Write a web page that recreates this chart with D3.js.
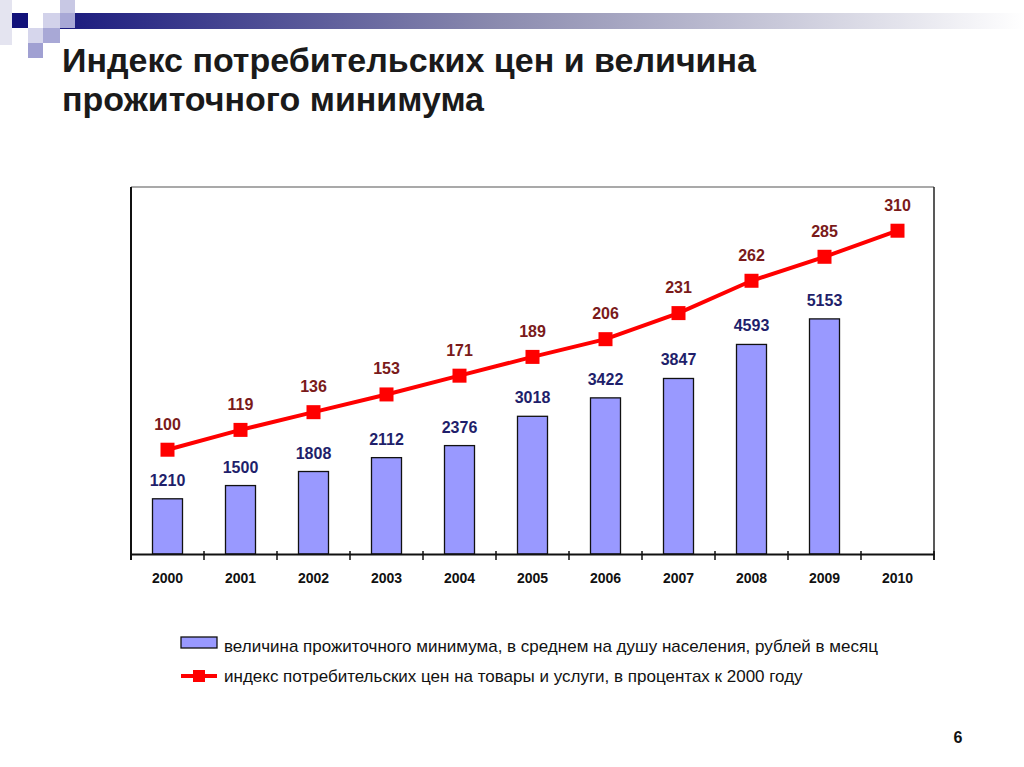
<!DOCTYPE html>
<html>
<head>
<meta charset="utf-8">
<script src="https://cdn.jsdelivr.net/npm/d3@7"></script>
<style>
  body { margin: 0; background: #fff; }
  svg { display: block; font-family: "Liberation Sans", Arial, sans-serif; }
</style>
</head>
<body>
<svg></svg>
<script>
var years = ['2000', '2001', '2002', '2003', '2004', '2005', '2006', '2007', '2008', '2009', '2010'];
var minimum = [1210, 1500, 1808, 2112, 2376, 3018, 3422, 3847, 4593, 5153];
var cpi = [100, 119, 136, 153, 171, 189, 206, 231, 262, 285, 310];
var legendLabels = [
  'величина прожиточного минимума, в среднем на душу населения, рублей в месяц',
  'индекс потребительских цен на товары и услуги, в процентах к 2000 году'
];

(function go() {
  var width = 1024, height = 767;
  var svg = d3.select('svg').attr('width', width).attr('height', height);

  // header decoration
  var grad = svg.append('defs').append('linearGradient').attr('id', 'hdr');
  grad.append('stop').attr('offset', '0%').attr('stop-color', '#1a1a7e');
  grad.append('stop').attr('offset', '45%').attr('stop-color', '#8a8aae');
  grad.append('stop').attr('offset', '100%').attr('stop-color', '#ffffff');
  svg.append('rect').attr('x', 60).attr('y', 13).attr('width', 964).attr('height', 16).attr('fill', 'url(#hdr)');

  var squares = [
    [0, 0, 12, 45, '#e4e4f0'],
    [60, 0, 15, 13, '#c8c8e4'],
    [43, 13, 17, 15, '#d2d2ea'],
    [60, 13, 15, 15, '#a8a8d6'],
    [28, 28, 15, 15, '#d6d6ec'],
    [43, 28, 17, 15, '#a8a8d6'],
    [28, 43, 15, 15, '#a0a0d2'],
    [12, 13, 16, 15, '#12127a']
  ];
  svg.selectAll('rect.sq').data(squares).enter().append('rect')
    .attr('class', 'sq')
    .attr('x', function(d) { return d[0]; })
    .attr('y', function(d) { return d[1]; })
    .attr('width', function(d) { return d[2]; })
    .attr('height', function(d) { return d[3]; })
    .attr('fill', function(d) { return d[4]; });

  // title
  var title = svg.append('text').attr('x', 62).attr('y', 72)
    .style('font-size', '34px').style('font-weight', 'bold').attr('fill', '#1a1a1a');
  title.append('tspan').attr('x', 62).text('Индекс потребительских цен и величина');
  title.append('tspan').attr('x', 62).attr('dy', 39).text('прожиточного минимума');

  // scales
  var left = 131, right = 934, top = 187, bottom = 554;
  var x = d3.scaleBand().domain(years).range([left, right]);
  var yBar = d3.scaleLinear().domain([0, 8000]).range([bottom, 189]);
  var yLine = d3.scaleLinear().domain([0, 350]).range([bottom, 189]);

  // frame
  svg.append('line').attr('x1', left).attr('x2', right).attr('y1', top).attr('y2', top)
    .attr('stroke', '#8c8c8c').attr('stroke-width', 1.5);
  svg.append('line').attr('x1', right).attr('x2', right).attr('y1', top).attr('y2', 560)
    .attr('stroke', '#222').attr('stroke-width', 1.5);
  svg.append('line').attr('x1', left).attr('x2', left).attr('y1', top).attr('y2', 560)
    .attr('stroke', '#111').attr('stroke-width', 2);

  // bars
  var bw = 30;
  svg.selectAll('rect.bar').data(minimum).enter().append('rect')
    .attr('class', 'bar')
    .attr('x', function(d, i) { return x(years[i]) + x.bandwidth() / 2 - bw / 2; })
    .attr('y', function(d) { return yBar(d); })
    .attr('width', bw)
    .attr('height', function(d) { return bottom - yBar(d); })
    .attr('fill', '#9999ff').attr('stroke', '#111').attr('stroke-width', 1.3);

  svg.selectAll('text.bl').data(minimum).enter().append('text')
    .attr('class', 'bl')
    .attr('x', function(d, i) { return x(years[i]) + x.bandwidth() / 2; })
    .attr('y', function(d) { return yBar(d) - 13; })
    .attr('text-anchor', 'middle')
    .style('font-size', '16px').style('font-weight', 'bold').attr('fill', '#1f1f6b')
    .text(function(d) { return d; });

  // x axis
  var axis = d3.axisBottom(x).tickSize(0).tickSizeOuter(0).tickPadding(19);
  var g = svg.append('g').attr('transform', 'translate(0,' + bottom + ')').call(axis);
  g.select('.domain').attr('stroke', '#111').attr('stroke-width', 2);
  g.selectAll('text').style('font-size', '14px').style('font-weight', 'bold')
    .style('font-family', '"Liberation Sans", Arial, sans-serif').attr('fill', '#111');

  svg.selectAll('line.tk').data(years.slice(1).concat(['end'])).enter().append('line')
    .attr('class', 'tk')
    .attr('x1', function(d) { return d == 'end' ? right : x(d); })
    .attr('x2', function(d) { return d == 'end' ? right : x(d); })
    .attr('y1', bottom - 3).attr('y2', bottom + 6)
    .attr('stroke', '#111').attr('stroke-width', 1.5);

  // line
  var line = d3.line()
    .x(function(d, i) { return x(years[i]) + x.bandwidth() / 2; })
    .y(function(d) { return yLine(d); });
  svg.append('path').datum(cpi).attr('d', line)
    .attr('fill', 'none').attr('stroke', '#ff0000').attr('stroke-width', 4);

  svg.selectAll('rect.mk').data(cpi).enter().append('rect')
    .attr('class', 'mk')
    .attr('x', function(d, i) { return x(years[i]) + x.bandwidth() / 2 - 7; })
    .attr('y', function(d) { return yLine(d) - 7; })
    .attr('width', 14).attr('height', 14)
    .attr('fill', '#ff0000');

  svg.selectAll('text.ll').data(cpi).enter().append('text')
    .attr('class', 'll')
    .attr('x', function(d, i) { return x(years[i]) + x.bandwidth() / 2; })
    .attr('y', function(d) { return yLine(d) - 20; })
    .attr('text-anchor', 'middle')
    .style('font-size', '16px').style('font-weight', 'bold').attr('fill', '#7a1a1a')
    .text(function(d) { return d; });

  // legend
  svg.append('rect').attr('x', 181).attr('y', 637).attr('width', 36).attr('height', 11)
    .attr('fill', '#9999ff').attr('stroke', '#111').attr('stroke-width', 1.3);
  svg.append('line').attr('x1', 181).attr('x2', 217).attr('y1', 676).attr('y2', 676)
    .attr('stroke', '#ff0000').attr('stroke-width', 4);
  svg.append('rect').attr('x', 193).attr('y', 670).attr('width', 12).attr('height', 12).attr('fill', '#ff0000');

  svg.selectAll('text.lg').data(legendLabels).enter().append('text')
    .attr('class', 'lg')
    .attr('x', 224)
    .attr('y', function(d, i) { return 652 + i * 30; })
    .style('font-size', '17px').attr('fill', '#111')
    .text(function(d) { return d; });

  // page number
  svg.append('text').attr('x', 958).attr('y', 743).attr('text-anchor', 'middle')
    .style('font-size', '16px').style('font-weight', 'bold').attr('fill', '#111').text('6');
})();
</script>
</body>
</html>
